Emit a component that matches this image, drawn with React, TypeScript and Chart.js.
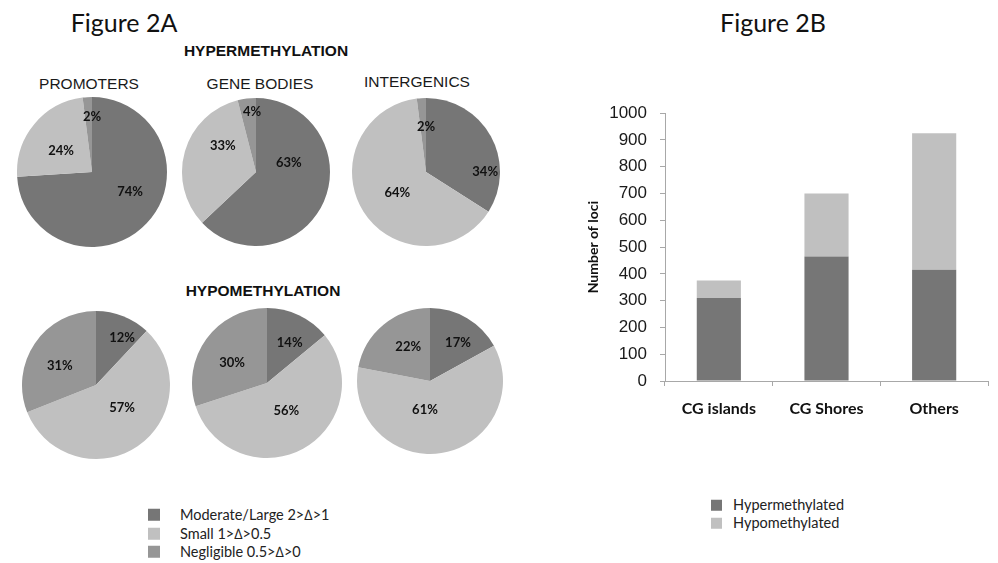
import React, { useEffect, useRef } from "react";
import { Chart, registerables } from "chart.js";

Chart.register(...registerables);

// ---- Figure 2A: share of loci per effect size (percent) ----
const effectClasses = ["Moderate/Large 2>\u2206>1", "Small 1>\u2206>0.5", "Negligible 0.5>\u2206>0"];
const regionNames = ["PROMOTERS", "GENE BODIES", "INTERGENICS"];

const hyperPromoters = [74, 24, 2];
const hyperGeneBodies = [63, 33, 4];
const hyperIntergenics = [34, 64, 2];

const hypoPromoters = [12, 57, 31];
const hypoGeneBodies = [14, 56, 30];
const hypoIntergenics = [17, 61, 22];

// ---- Figure 2B: number of loci per genomic context ----
const contexts = ["CG islands", "CG Shores", "Others"];
const hypermethylatedLoci = [310, 465, 415];
const hypomethylatedLoci = [65, 235, 510];
const lociAxisMax = 1000;
const lociAxisStep = 100;

// palette
const DARK = "#767676";
const LIGHT = "#c0c0c0";
const MID = "#969696";
const sliceColors = [DARK, LIGHT, MID];

const CALIBRI_LIKE = "Lato, 'Open Sans', sans-serif";
const ARIAL_LIKE = "'Liberation Sans', Arial, sans-serif";

// where each pie sits on the page
const pieFrames = [
  { cx: 92, cy: 172, r: 75 },
  { cx: 256, cy: 172, r: 74 },
  { cx: 426, cy: 172, r: 74 },
  { cx: 96, cy: 385, r: 74 },
  { cx: 267, cy: 383, r: 75 },
  { cx: 430, cy: 381, r: 73 },
];

// label placement inside each slice: [fraction along the slice's sweep, fraction of radius]
const labelPlacement = [
  [[0.44, 0.57], [0.44, 0.5], [1.0, 0.73]],
  [[0.33, 0.46], [0.685, 0.57], [0.74, 0.81]],
  [[0.73, 0.8], [0.484, 0.48], [1.0, 0.61]],
  [[0.67, 0.73], [0.43, 0.47], [0.44, 0.55]],
  [[0.59, 0.61], [0.47, 0.45], [0.45, 0.54]],
  [[0.59, 0.65], [0.586, 0.4], [0.585, 0.55]],
];

const pieSeries = [
  hyperPromoters,
  hyperGeneBodies,
  hyperIntergenics,
  hypoPromoters,
  hypoGeneBodies,
  hypoIntergenics,
];

const sliceLabels = {
  id: "sliceLabels",
  afterDatasetsDraw(chart: any, _args: any, opts: any) {
    const { ctx } = chart;
    const meta = chart.getDatasetMeta(0);
    const values = chart.data.datasets[0].data as number[];
    const placement = opts.placement as number[][];
    ctx.save();
    ctx.font = `bold 13px ${CALIBRI_LIKE}`;
    ctx.fillStyle = "#111";
    ctx.textAlign = "center";
    ctx.textBaseline = "middle";
    meta.data.forEach((arc: any, i: number) => {
      const p = arc.getProps(["x", "y", "startAngle", "endAngle", "outerRadius"], true);
      const [t, rf] = placement[i];
      const a = p.startAngle + t * (p.endAngle - p.startAngle);
      const lx = p.x + Math.cos(a) * rf * p.outerRadius;
      const ly = p.y + Math.sin(a) * rf * p.outerRadius;
      ctx.fillText(`${values[i]}%`, lx, ly);
    });
    ctx.restore();
  },
};

function Pie({ values, frame, placement }: { values: number[]; frame: any; placement: number[][] }) {
  const ref = useRef<HTMLCanvasElement>(null);
  const size = frame.r * 2 + 2;
  useEffect(() => {
    const chart = new Chart(ref.current!, {
      type: "pie",
      data: {
        labels: effectClasses,
        datasets: [
          {
            data: values,
            backgroundColor: sliceColors,
            borderWidth: 0,
            hoverOffset: 0,
          },
        ],
      },
      options: {
        animation: false,
        responsive: false,
        events: [],
        layout: { padding: 1 },
        plugins: {
          legend: { display: false },
          tooltip: { enabled: false },
          sliceLabels: { placement },
        } as any,
      },
      plugins: [sliceLabels],
    });
    return () => chart.destroy();
  }, []);
  return (
    <canvas
      ref={ref}
      width={size}
      height={size}
      style={{
        position: "absolute",
        left: frame.cx - size / 2,
        top: frame.cy - size / 2,
        width: size,
        height: size,
      }}
    />
  );
}

function LociBars() {
  const ref = useRef<HTMLCanvasElement>(null);
  useEffect(() => {
    const axisGray = "#a8a8a8";
    const chart = new Chart(ref.current!, {
      type: "bar",
      data: {
        labels: contexts,
        datasets: [
          {
            label: "Hypermethylated",
            data: hypermethylatedLoci,
            backgroundColor: DARK,
            barPercentage: 0.41,
            categoryPercentage: 1,
          },
          {
            label: "Hypomethylated",
            data: hypomethylatedLoci,
            backgroundColor: LIGHT,
            barPercentage: 0.41,
            categoryPercentage: 1,
          },
        ],
      },
      options: {
        animation: false,
        responsive: false,
        events: [],
        layout: { padding: { left: 21, top: 10, right: 10, bottom: 0 } },
        plugins: { legend: { display: false }, tooltip: { enabled: false } },
        scales: {
          x: {
            stacked: true,
            grid: {
              offset: true,
              drawOnChartArea: false,
              drawTicks: true,
              tickLength: 5,
              color: axisGray,
            },
            border: { color: axisGray, width: 1 },
            ticks: {
              padding: 13,
              color: "#111",
              font: { family: CALIBRI_LIKE, size: 16, weight: "bold" },
            },
            afterFit: (s: any) => {
              s.height = 54;
            },
          },
          y: {
            stacked: true,
            min: 0,
            max: lociAxisMax,
            grid: {
              drawOnChartArea: false,
              drawTicks: true,
              tickLength: 5,
              color: axisGray,
            },
            border: { color: axisGray, width: 1 },
            ticks: {
              stepSize: lociAxisStep,
              padding: 13,
              color: "#1a1a1a",
              font: { family: ARIAL_LIKE, size: 17 },
              callback: (v: any) => String(v),
            },
            title: {
              display: true,
              text: "Number of loci",
              color: "#111",
              padding: { top: 4, bottom: 0 },
              font: { family: CALIBRI_LIKE, size: 14, weight: "bold" },
            },
            afterFit: (s: any) => {
              s.width = 84;
            },
          },
        },
      } as any,
    });
    return () => chart.destroy();
  }, []);
  return (
    <canvas
      ref={ref}
      width={438}
      height={345}
      style={{ position: "absolute", left: 560, top: 90, width: 438, height: 345 }}
    />
  );
}

function Label({ x, y, children, style }: { x: number; y: number; children: any; style?: any }) {
  return (
    <div
      style={{
        position: "absolute",
        left: x,
        top: y,
        transform: "translate(-50%, -50%)",
        whiteSpace: "nowrap",
        lineHeight: 1,
        color: "#111",
        ...style,
      }}
    >
      {children}
    </div>
  );
}

function LegendRow({ x, y, box, color, text, gap }: any) {
  return (
    <div
      style={{
        position: "absolute",
        left: x,
        top: y,
        transform: "translateY(-50%)",
        display: "flex",
        alignItems: "center",
        whiteSpace: "nowrap",
        fontFamily: CALIBRI_LIKE,
        fontSize: 14.5,
        lineHeight: 1,
        color: "#222",
      }}
    >
      <span style={{ display: "inline-block", width: box, height: box, background: color, marginRight: gap }} />
      <span>{text}</span>
    </div>
  );
}

export default function App() {
  const figTitle = { fontFamily: CALIBRI_LIKE, fontSize: 25, color: "#111" };
  const groupTitle = { fontFamily: ARIAL_LIKE, fontSize: 15.5, fontWeight: "bold" };
  const regionTitle = { fontFamily: ARIAL_LIKE, fontSize: 15.5, color: "#1a1a1a" };
  return (
    <div
      style={{
        position: "absolute",
        left: 0,
        top: 0,
        width: 998,
        height: 563,
        background: "#fff",
        overflow: "hidden",
      }}
    >
      <Label x={124} y={22} style={figTitle}>Figure 2A</Label>
      <Label x={773} y={22} style={figTitle}>Figure 2B</Label>

      <Label x={266} y={51} style={groupTitle}>HYPERMETHYLATION</Label>
      <Label x={263} y={291} style={groupTitle}>HYPOMETHYLATION</Label>

      <Label x={89} y={84} style={regionTitle}>{regionNames[0]}</Label>
      <Label x={260} y={84} style={regionTitle}>{regionNames[1]}</Label>
      <Label x={417} y={82} style={regionTitle}>{regionNames[2]}</Label>

      {pieSeries.map((vals, i) => (
        <Pie key={i} values={vals} frame={pieFrames[i]} placement={labelPlacement[i]} />
      ))}

      <LociBars />

      {effectClasses.map((t, i) => (
        <LegendRow key={t} x={148} y={515 + i * 18.5} box={12} color={sliceColors[i]} text={t} gap={20} />
      ))}

      <LegendRow x={711} y={505} box={11} color={DARK} text="Hypermethylated" gap={11} />
      <LegendRow x={711} y={523} box={11} color={LIGHT} text="Hypomethylated" gap={11} />
    </div>
  );
}
